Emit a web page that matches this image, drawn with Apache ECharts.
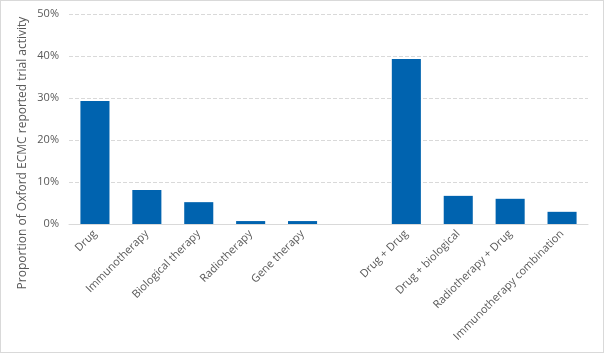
<!DOCTYPE html>
<html><head><meta charset="utf-8">
<script src="https://cdn.jsdelivr.net/npm/echarts@6/dist/echarts.min.js"></script>
<style>html,body{margin:0;padding:0;background:#fff;}#c{width:602px;height:351px;border:1px solid #d9d9d9;}</style>
</head><body><div id="c"></div>
<script>
var categories = ["Drug","Immunotherapy","Biological therapy","Radiotherapy","Gene therapy","","Drug + Drug","Drug + biological","Radiotherapy + Drug","Immunotherapy combination"];
var values = [29.3, 8.1, 5.2, 0.7, 0.7, null, 39.3, 6.7, 6.0, 2.9];
var yTicks = [0, 10, 20, 30, 40, 50];
var yTitle = "Proportion of Oxford ECMC reported trial activity";

var chart = echarts.init(document.getElementById('c'));
chart.setOption({
  animation: false,
  grid: {left: 68, right: 15, top: 13, bottom: 128},
  xAxis: {
    type: 'category', data: categories,
    axisLine: {lineStyle: {color: '#d9d9d9'}},
    axisTick: {show: false},
    axisLabel: {rotate: 45, interval: 0, color: '#595959', fontSize: 11, fontFamily: 'Open Sans', margin: 8}
  },
  yAxis: {
    type: 'value', min: yTicks[0], max: yTicks[yTicks.length-1], interval: 10,
    axisLine: {show: false}, axisTick: {show: false},
    splitLine: {lineStyle: {color: '#d9d9d9', type: 'dashed'}},
    axisLabel: {formatter: '{value}%', color: '#595959', fontSize: 11, fontFamily: 'Open Sans', margin: 10}
  },
  graphic: [{
    type: 'text', x: 22, y: 152, rotation: Math.PI/2,
    style: {text: yTitle, fill: '#595959', fontSize: 12, fontFamily: 'Open Sans', align: 'center', verticalAlign: 'middle'}
  }],
  series: [{
    type: 'bar', data: values, barWidth: '56%',
    itemStyle: {color: '#0063AF'}
  }]
});
</script></body></html>
